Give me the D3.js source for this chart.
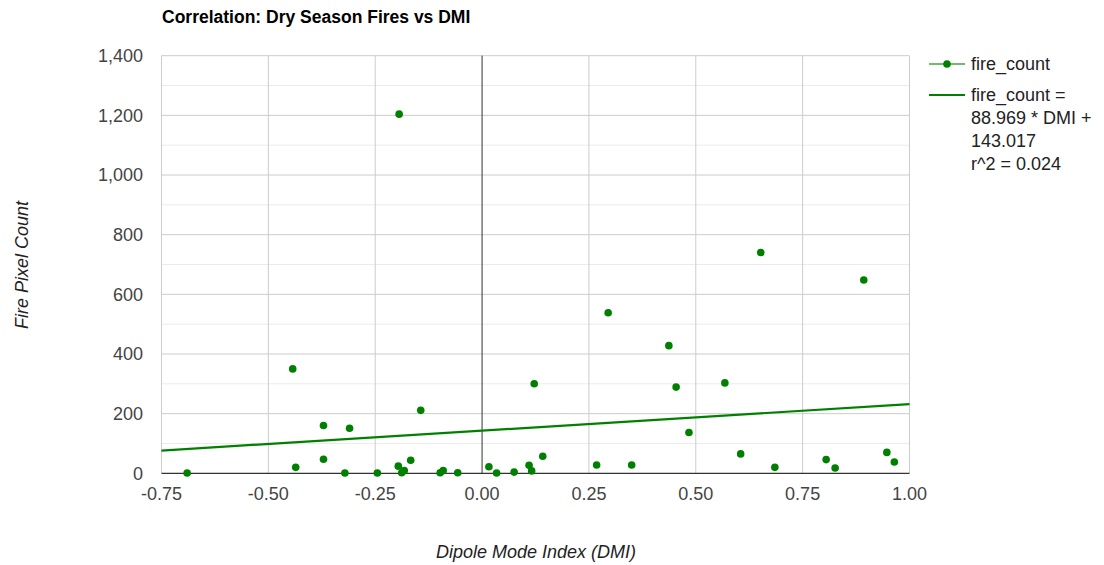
<!DOCTYPE html>
<html>
<head>
<meta charset="utf-8">
<script src="https://cdn.jsdelivr.net/npm/d3@7"></script>
<style>
  html, body { margin: 0; padding: 0; background: #fff; }
  svg { display: block; font-family: Arial, "Liberation Sans", sans-serif; }
</style>
</head>
<body>
<svg id="chart" width="1104" height="565"></svg>
<script>
// ---- Data ----
const dmi = [-0.690, -0.443, -0.436, -0.371, -0.371, -0.310, -0.321, -0.245, -0.196, -0.194,
             -0.188, -0.182, -0.167, -0.1435, -0.098, -0.091, -0.057, 0.016, 0.034, 0.075,
             0.110, 0.116, 0.122, 0.142, 0.268, 0.295, 0.350, 0.437, 0.454, 0.484,
             0.568, 0.605, 0.652, 0.685, 0.805, 0.826, 0.893, 0.947, 0.9645];
const fireCount = [1, 350, 20, 160, 47, 151, 1, 1, 24, 1204,
                   2, 9, 44, 211, 2, 9, 2, 22, 1, 4,
                   27, 8, 300, 57, 28, 538, 28, 428, 289, 137,
                   303, 65, 740, 20, 46, 18, 648, 70, 38];
const xTicks = [-0.75, -0.5, -0.25, 0, 0.25, 0.5, 0.75, 1.0];
const yTicks = [0, 200, 400, 600, 800, 1000, 1200, 1400];
const yMinorTicks = [100, 300, 500, 700, 900, 1100, 1300];
const trendSlope = 88.969;
const trendIntercept = 143.017;
const legendLines = ["fire_count =", "88.969 * DMI +", "143.017", "r^2 = 0.024"];
const titleText = "Correlation: Dry Season Fires vs DMI";
const xTitle = "Dipole Mode Index (DMI)";
const yTitle = "Fire Pixel Count";
const seriesName = "fire_count";

(function () {
// ---- Layout ----
const svg = d3.select("#chart");
const pL = 161.5, pR = 909.5, pT = 55.7, pB = 473.3;
const x = d3.scaleLinear().domain([-0.75, 1.0]).range([pL, pR]);
const y = d3.scaleLinear().domain([0, 1400]).range([pB, pT]);
const green = "#008000";
const loc = d3.formatLocale({decimal: ".", thousands: ",", grouping: [3], currency: ["", ""], minus: "-"});

// minor gridlines
svg.append("g").selectAll("line").data(yMinorTicks).join("line")
  .attr("x1", pL).attr("x2", pR)
  .attr("y1", d => y(d)).attr("y2", d => y(d))
  .attr("stroke", "#ebebeb").attr("stroke-width", 1);

// major horizontal gridlines
svg.append("g").selectAll("line").data(yTicks.filter(d => d !== 0)).join("line")
  .attr("x1", pL).attr("x2", pR)
  .attr("y1", d => y(d)).attr("y2", d => y(d))
  .attr("stroke", "#cccccc").attr("stroke-width", 1);

// vertical gridlines
svg.append("g").selectAll("line").data(xTicks.filter(d => d !== 0)).join("line")
  .attr("x1", d => x(d)).attr("x2", d => x(d))
  .attr("y1", pT).attr("y2", pB)
  .attr("stroke", "#cccccc").attr("stroke-width", 1);

// zero line (vertical)
svg.append("line")
  .attr("x1", x(0)).attr("x2", x(0)).attr("y1", pT).attr("y2", pB)
  .attr("stroke", "#333333").attr("stroke-width", 1);

// baseline
svg.append("line")
  .attr("x1", pL).attr("x2", pR).attr("y1", y(0)).attr("y2", y(0))
  .attr("stroke", "#333333").attr("stroke-width", 1.2);

// trendline
const trendX = x.domain();
svg.append("line")
  .attr("x1", x(trendX[0])).attr("y1", y(trendSlope * trendX[0] + trendIntercept))
  .attr("x2", x(trendX[1])).attr("y2", y(trendSlope * trendX[1] + trendIntercept))
  .attr("stroke", green).attr("stroke-width", 2.2);

// points
svg.append("g").selectAll("circle").data(dmi.map((d, i) => [d, fireCount[i]])).join("circle")
  .attr("cx", d => x(d[0])).attr("cy", d => y(d[1])).attr("r", 3.8)
  .attr("fill", green);

// y tick labels
svg.append("g").selectAll("text").data(yTicks).join("text")
  .attr("x", 143).attr("y", d => y(d)).attr("dy", "0.35em")
  .attr("text-anchor", "end").attr("font-size", 18).attr("fill", "#444")
  .text(d => loc.format(",")(d));

// x tick labels
svg.append("g").selectAll("text").data(xTicks).join("text")
  .attr("x", d => x(d)).attr("y", 499.5)
  .attr("text-anchor", "middle").attr("font-size", 18).attr("fill", "#444")
  .text(d => loc.format(".2f")(d));

// title
svg.append("text").attr("x", 162).attr("y", 22.5)
  .attr("font-size", 17.5).attr("font-weight", "bold").attr("fill", "#000")
  .text(titleText);

// axis titles
svg.append("text").attr("x", 536).attr("y", 558)
  .attr("text-anchor", "middle").attr("font-size", 18).attr("font-style", "italic").attr("fill", "#222")
  .text(xTitle);
svg.append("text").attr("transform", "translate(28,265) rotate(-90)")
  .attr("text-anchor", "middle").attr("font-size", 18).attr("font-style", "italic").attr("fill", "#222")
  .text(yTitle);

// legend
const lg = svg.append("g");
lg.append("line").attr("x1", 929).attr("x2", 965).attr("y1", 64).attr("y2", 64)
  .attr("stroke", green).attr("stroke-opacity", 0.55).attr("stroke-width", 2.2);
lg.append("circle").attr("cx", 947).attr("cy", 64).attr("r", 3.8).attr("fill", green);
lg.append("text").attr("x", 971).attr("y", 64).attr("dy", "0.35em")
  .attr("font-size", 18).attr("fill", "#222").text(seriesName);
lg.append("line").attr("x1", 929).attr("x2", 965).attr("y1", 95).attr("y2", 95)
  .attr("stroke", green).attr("stroke-width", 2.2);
lg.selectAll("text.eq").data(legendLines).join("text").attr("class", "eq")
  .attr("x", 971).attr("y", (d, i) => 95 + i * 23).attr("dy", "0.35em")
  .attr("font-size", 18).attr("fill", "#222").text(d => d);
})();
</script>
</body>
</html>
